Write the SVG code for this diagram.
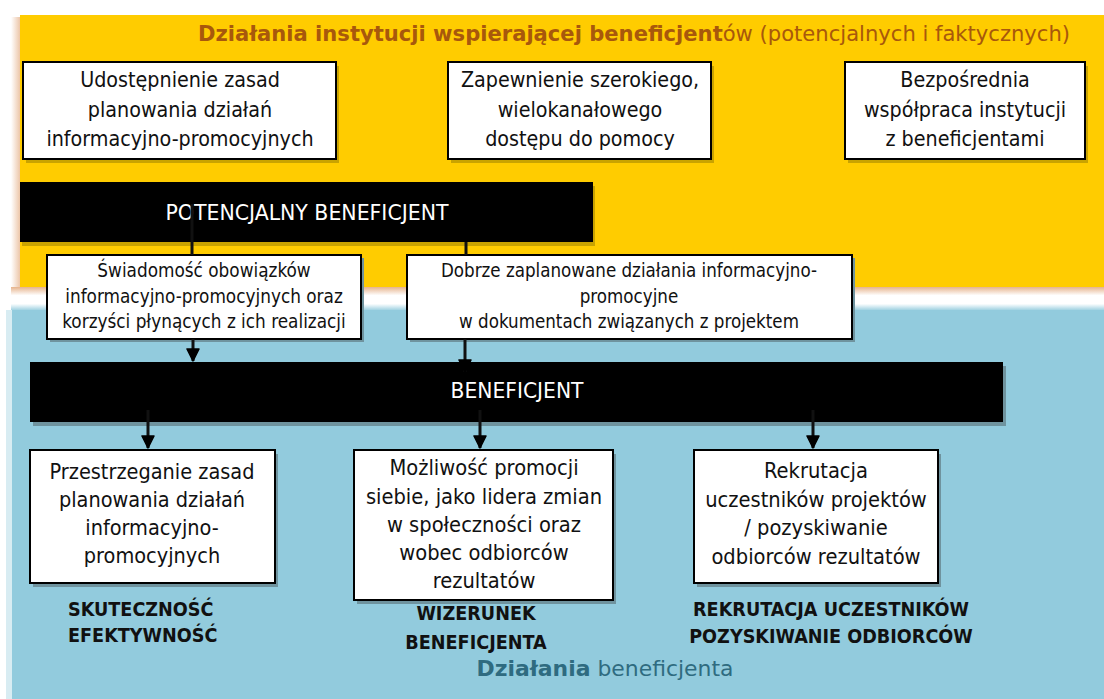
<svg xmlns="http://www.w3.org/2000/svg" width="1104" height="699" viewBox="0 0 1104 699">
<defs>
<style>
.t{font-family:"DejaVu Sans Condensed","DejaVu Sans",sans-serif;font-stretch:condensed;fill:#111;text-anchor:middle}
.w{fill:#fff}
.box{fill:#fff;stroke:#000;stroke-width:2}
.bar{fill:#000}
.lab{font-family:"DejaVu Sans Condensed","DejaVu Sans",sans-serif;font-stretch:condensed;font-weight:bold;font-size:19.6px;fill:#111}
.ln{stroke:#111;stroke-width:3;fill:none}
.sy{fill:#c9a300}
.sb{fill:#6f939e}
</style>
<linearGradient id="gl" x1="0" y1="0" x2="1" y2="0">
<stop offset="0" stop-color="#fff"/>
<stop offset="1" stop-color="#e6b38c"/>
</linearGradient>
<linearGradient id="gb" x1="0" y1="0" x2="0" y2="1">
<stop offset="0" stop-color="#e6b38c"/>
<stop offset="0.35" stop-color="#fff"/>
<stop offset="0.7" stop-color="#fff"/>
<stop offset="1" stop-color="#92cbdd"/>
</linearGradient>
<marker id="dn" viewBox="0 0 14 14" refX="7" refY="13" markerWidth="14" markerHeight="14" markerUnits="userSpaceOnUse" orient="0">
<path d="M1,1 L13,1 L7,13 z" fill="#000" stroke="#000" stroke-width="1.5" stroke-linejoin="round"/>
</marker>
</defs>
<rect width="1104" height="699" fill="#fff"/>
<g id="panel-top">
<rect x="11" y="17" width="12" height="276" fill="url(#gl)"/>
<rect x="20" y="15" width="1084" height="272" fill="#ffcc00"/>
<text x="1070" y="41" textLength="872" lengthAdjust="spacingAndGlyphs" style="font-family:'DejaVu Sans Condensed','DejaVu Sans',sans-serif;font-stretch:condensed;font-size:22px;fill:#a8580c;text-anchor:end"><tspan font-weight="bold">Działania instytucji wspierającej beneficjent</tspan>ów (potencjalnych i faktycznych)</text>
</g>
<g id="panel-bottom">
<rect x="11" y="287" width="1093" height="24" fill="url(#gb)"/>
<rect x="10" y="310" width="1094" height="389" fill="#92cbdd"/>
<rect x="6" y="310" width="6" height="389" fill="#d8ecf2"/>
<text x="605" y="676" textLength="257" lengthAdjust="spacingAndGlyphs" style="font-family:'DejaVu Sans Condensed','DejaVu Sans',sans-serif;font-stretch:condensed;font-size:22px;fill:#2f6b80;text-anchor:middle"><tspan font-weight="bold">Działania</tspan> beneficjenta</text>
</g>
<g id="n-udostepnienie">
<rect x="26" y="66" width="313" height="97" class="sy"/>
<rect x="23" y="62" width="313" height="97" class="box"/>
<text class="t" font-size="21.3" x="180" y="87">Udostępnienie zasad</text>
<text class="t" font-size="21.3" x="180" y="117">planowania działań</text>
<text class="t" font-size="21.3" x="180" y="146">informacyjno-promocyjnych</text>
</g>
<g id="n-zapewnienie">
<rect x="451" y="66" width="263" height="97" class="sy"/>
<rect x="448" y="62" width="263" height="97" class="box"/>
<text class="t" font-size="21.3" x="580" y="87">Zapewnienie szerokiego,</text>
<text class="t" font-size="21.3" x="580" y="117">wielokanałowego</text>
<text class="t" font-size="21.3" x="580" y="146">dostępu do pomocy</text>
</g>
<g id="n-bezposrednia">
<rect x="848" y="66" width="240" height="97" class="sy"/>
<rect x="845" y="62" width="240" height="97" class="box"/>
<text class="t" font-size="21.3" x="965" y="87">Bezpośrednia</text>
<text class="t" font-size="21.3" x="965" y="117">współpraca instytucji</text>
<text class="t" font-size="21.3" x="965" y="146">z beneficjentami</text>
</g>
<g id="n-potencjalny">
<rect x="22" y="186" width="573" height="60" class="sy"/>
<rect x="20" y="182" width="573" height="60" class="bar"/>
<text class="t w" font-size="21" x="307" y="220" textLength="283" lengthAdjust="spacingAndGlyphs">POTENCJALNY BENEFICJENT</text>
</g>
<g id="n-swiadomosc">
<rect x="50" y="258" width="314" height="84" class="sb"/>
<rect x="47" y="255" width="314" height="84" class="box"/>
<text class="t" font-size="18.8" x="204" y="277">Świadomość obowiązków</text>
<text class="t" font-size="18.8" x="204" y="303">informacyjno-promocyjnych oraz</text>
<text class="t" font-size="18.8" x="204" y="328">korzyści płynących z ich realizacji</text>
</g>
<g id="n-dobrze">
<rect x="410" y="258" width="445" height="84" class="sb"/>
<rect x="407" y="255" width="445" height="84" class="box"/>
<text class="t" font-size="18.6" x="629" y="277">Dobrze zaplanowane działania informacyjno-</text>
<text class="t" font-size="18.6" x="629" y="303">promocyjne</text>
<text class="t" font-size="18.6" x="629" y="328">w dokumentach związanych z projektem</text>
</g>
<g id="n-beneficjent">
<rect x="33" y="366" width="973" height="60" class="sb"/>
<rect x="30" y="362" width="973" height="60" class="bar"/>
<text class="t w" font-size="21" x="517" y="398" textLength="133" lengthAdjust="spacingAndGlyphs">BENEFICJENT</text>
</g>
<g id="n-przestrzeganie">
<rect x="33" y="454" width="245" height="133" class="sb"/>
<rect x="30" y="450" width="245" height="133" class="box"/>
<text class="t" font-size="21.5" x="152" y="479">Przestrzeganie zasad</text>
<text class="t" font-size="21.5" x="152" y="507">planowania działań</text>
<text class="t" font-size="21.5" x="152" y="535">informacyjno-</text>
<text class="t" font-size="21.5" x="152" y="563">promocyjnych</text>
</g>
<g id="n-mozliwosc">
<rect x="357" y="454" width="259" height="150" class="sb"/>
<rect x="354" y="450" width="259" height="150" class="box"/>
<text class="t" font-size="21.7" x="484" y="475">Możliwość promocji</text>
<text class="t" font-size="21.7" x="484" y="504">siebie, jako lidera zmian</text>
<text class="t" font-size="21.7" x="484" y="532">w społeczności oraz</text>
<text class="t" font-size="21.7" x="484" y="560">wobec odbiorców</text>
<text class="t" font-size="21.7" x="484" y="588">rezultatów</text>
</g>
<g id="n-rekrutacja">
<rect x="697" y="454" width="244" height="133" class="sb"/>
<rect x="694" y="450" width="244" height="133" class="box"/>
<text class="t" font-size="21.7" x="816" y="478">Rekrutacja</text>
<text class="t" font-size="21.7" x="816" y="507">uczestników projektów</text>
<text class="t" font-size="21.7" x="816" y="535">/ pozyskiwanie</text>
<text class="t" font-size="21.7" x="816" y="564">odbiorców rezultatów</text>
</g>
<g id="labels">
<text class="lab" x="68" y="616">SKUTECZNOŚĆ</text>
<text class="lab" x="68" y="642">EFEKTYWNOŚĆ</text>
<text class="lab" x="476" y="620" text-anchor="middle">WIZERUNEK</text>
<text class="lab" x="476" y="649" text-anchor="middle">BENEFICJENTA</text>
<text class="lab" x="831" y="616" text-anchor="middle">REKRUTACJA UCZESTNIKÓW</text>
<text class="lab" x="831" y="643" text-anchor="middle">POZYSKIWANIE ODBIORCÓW</text>
</g>
<g id="connectors">
<line class="ln" x1="192" y1="204" x2="192" y2="255" stroke="#1a1a1a"/>
<line class="ln" x1="466" y1="242" x2="466" y2="255"/>
<line class="ln" x1="193" y1="339" x2="193" y2="361" marker-end="url(#dn)"/>
<line class="ln" x1="465" y1="339" x2="465" y2="372" marker-end="url(#dn)"/>
<line class="ln" x1="148" y1="410" x2="148" y2="448" marker-end="url(#dn)"/>
<line class="ln" x1="480" y1="410" x2="480" y2="448" marker-end="url(#dn)"/>
<line class="ln" x1="813" y1="410" x2="813" y2="448" marker-end="url(#dn)"/>
</g>
</svg>
